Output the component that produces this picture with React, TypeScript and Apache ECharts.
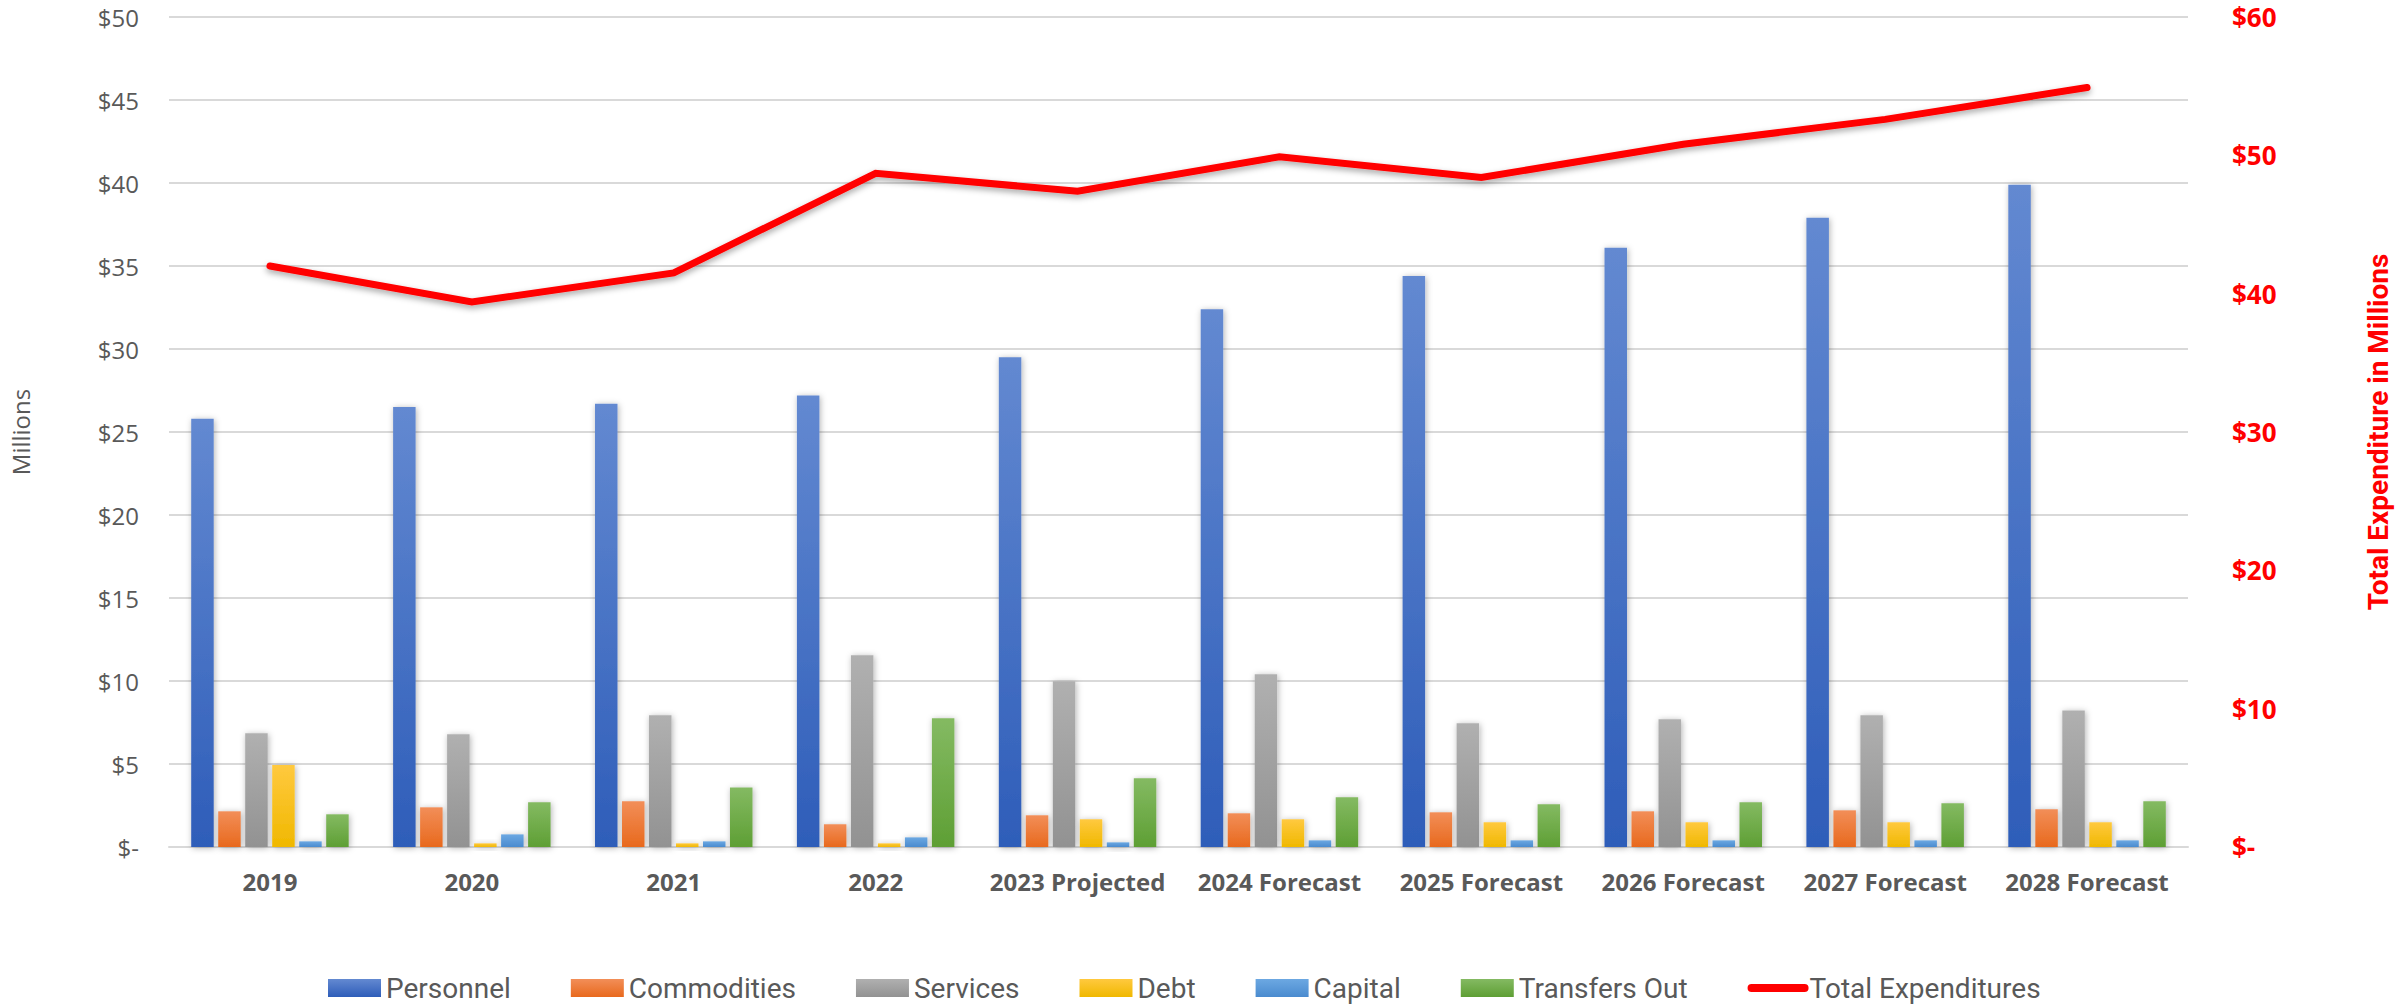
import React, { useEffect, useRef } from "react";
import * as echarts from "echarts";

const categories = [
  "2019",
  "2020",
  "2021",
  "2022",
  "2023 Projected",
  "2024 Forecast",
  "2025 Forecast",
  "2026 Forecast",
  "2027 Forecast",
  "2028 Forecast",
];

const personnel = [25.8, 26.5, 26.7, 27.2, 29.5, 32.4, 34.4, 36.1, 37.9, 39.9];
const commodities = [2.15, 2.39, 2.75, 1.37, 1.91, 2.03, 2.09, 2.15, 2.21, 2.27];
const services = [6.85, 6.79, 7.93, 11.55, 9.98, 10.4, 7.45, 7.69, 7.93, 8.23];
const debt = [4.94, 0.22, 0.22, 0.22, 1.67, 1.67, 1.49, 1.49, 1.49, 1.49];
const capital = [0.34, 0.76, 0.34, 0.58, 0.28, 0.4, 0.4, 0.4, 0.4, 0.4];
const transfersOut = [1.97, 2.69, 3.59, 7.75, 4.14, 2.99, 2.57, 2.69, 2.63, 2.75];
const totalExpenditures = [42.0, 39.4, 41.5, 48.7, 47.4, 49.9, 48.4, 50.8, 52.6, 54.9];

const leftTicks = { min: 0, max: 50, interval: 5 };
const rightTicks = { min: 0, max: 60, interval: 10 };

const grad = (top: string, bottom: string) =>
  new echarts.graphic.LinearGradient(0, 0, 0, 1, [
    { offset: 0, color: top },
    { offset: 1, color: bottom },
  ]);

const barDefs = [
  { name: "Personnel", data: personnel, top: "#6389D1", bottom: "#2E5DB9" },
  { name: "Commodities", data: commodities, top: "#F28E58", bottom: "#E8691D" },
  { name: "Services", data: services, top: "#B0B0B0", bottom: "#929292" },
  { name: "Debt", data: debt, top: "#FFC93F", bottom: "#F0B800" },
  { name: "Capital", data: capital, top: "#6CA8E2", bottom: "#4A8BCF" },
  { name: "Transfers Out", data: transfersOut, top: "#84BA62", bottom: "#5E9F34" },
];

const fmt = (v: number) => (v === 0 ? "$-" : "$" + v);

export default function App() {
  const ref = useRef<HTMLDivElement>(null);
  useEffect(() => {
    document.body.style.margin = "0";
    if (!ref.current) return;
    const chart = echarts.init(ref.current, undefined, { renderer: "svg" });
    const barSeries = barDefs.map((b) => ({
      name: b.name,
      type: "bar",
      yAxisIndex: 0,
      data: b.data,
      barGap: "20%",
      barCategoryGap: "22%",
      itemStyle: {
        color: grad(b.top, b.bottom),
        shadowBlur: 6,
        shadowColor: "rgba(0,0,0,0.3)",
        shadowOffsetX: 1,
        shadowOffsetY: 1,
      },
    }));
    chart.setOption({
      animation: false,
      backgroundColor: "#ffffff",
      grid: { left: 160, right: 202, top: 17, bottom: 158, containLabel: false },
      legend: {
        top: 968,
        left: 323,
        itemWidth: 53,
        itemHeight: 18,
        itemGap: 60,
        textStyle: { fontFamily: "Roboto", fontSize: 28, lineHeight: 30, color: "#595959" },
        data: [
          ...barDefs.map((b) => ({ name: b.name, icon: "rect" })),
          {
            name: "Total Expenditures",
            itemStyle: { opacity: 0 },
            lineStyle: { width: 8, cap: "round", color: "#FF0000", shadowBlur: 0 },
          },
        ],
      },
      xAxis: {
        type: "category",
        data: categories,
        axisTick: { show: false },
        axisLine: { lineStyle: { color: "#D9D9D9", width: 2 } },
        axisLabel: {
          interval: 0,
          color: "#595959",
          fontFamily: "Open Sans",
          fontWeight: "bold",
          fontSize: 24,
          margin: 22,
        },
      },
      yAxis: [
        {
          type: "value",
          ...leftTicks,
          name: "Millions",
          nameLocation: "middle",
          nameRotate: 90,
          nameGap: 137,
          nameTextStyle: { fontFamily: "Open Sans", fontSize: 24, color: "#595959" },
          axisLine: { show: false },
          axisTick: { show: false },
          splitLine: { lineStyle: { color: "#D9D9D9", width: 2 } },
          axisLabel: {
            formatter: fmt,
            color: "#595959",
            fontFamily: "Open Sans",
            fontSize: 24,
            margin: 30,
          },
        },
        {
          type: "value",
          position: "right",
          ...rightTicks,
          name: "Total Expenditure in Millions",
          nameLocation: "middle",
          nameRotate: 90,
          nameGap: 176,
          nameTextStyle: {
            fontFamily: "Roboto",
            fontWeight: "bold",
            fontSize: 28,
            color: "#FF0000",
          },
          axisLine: { show: false },
          axisTick: { show: false },
          splitLine: { show: false },
          axisLabel: {
            formatter: fmt,
            color: "#FF0000",
            fontFamily: "Open Sans",
            fontWeight: "bold",
            fontSize: 26,
            margin: 44,
          },
        },
      ],
      series: [
        ...barSeries,
        {
          name: "Total Expenditures",
          type: "line",
          yAxisIndex: 1,
          data: totalExpenditures,
          symbol: "none",
          lineStyle: {
            color: "#FF0000",
            width: 7,
            cap: "round",
            join: "miter",
            shadowBlur: 6,
            shadowColor: "rgba(0,0,0,0.35)",
            shadowOffsetY: 3,
          },
          itemStyle: { color: "#FF0000" },
          z: 5,
        },
      ],
    });
    return () => chart.dispose();
  }, []);
  return <div ref={ref} style={{ width: 2400, height: 1005 }} />;
}
